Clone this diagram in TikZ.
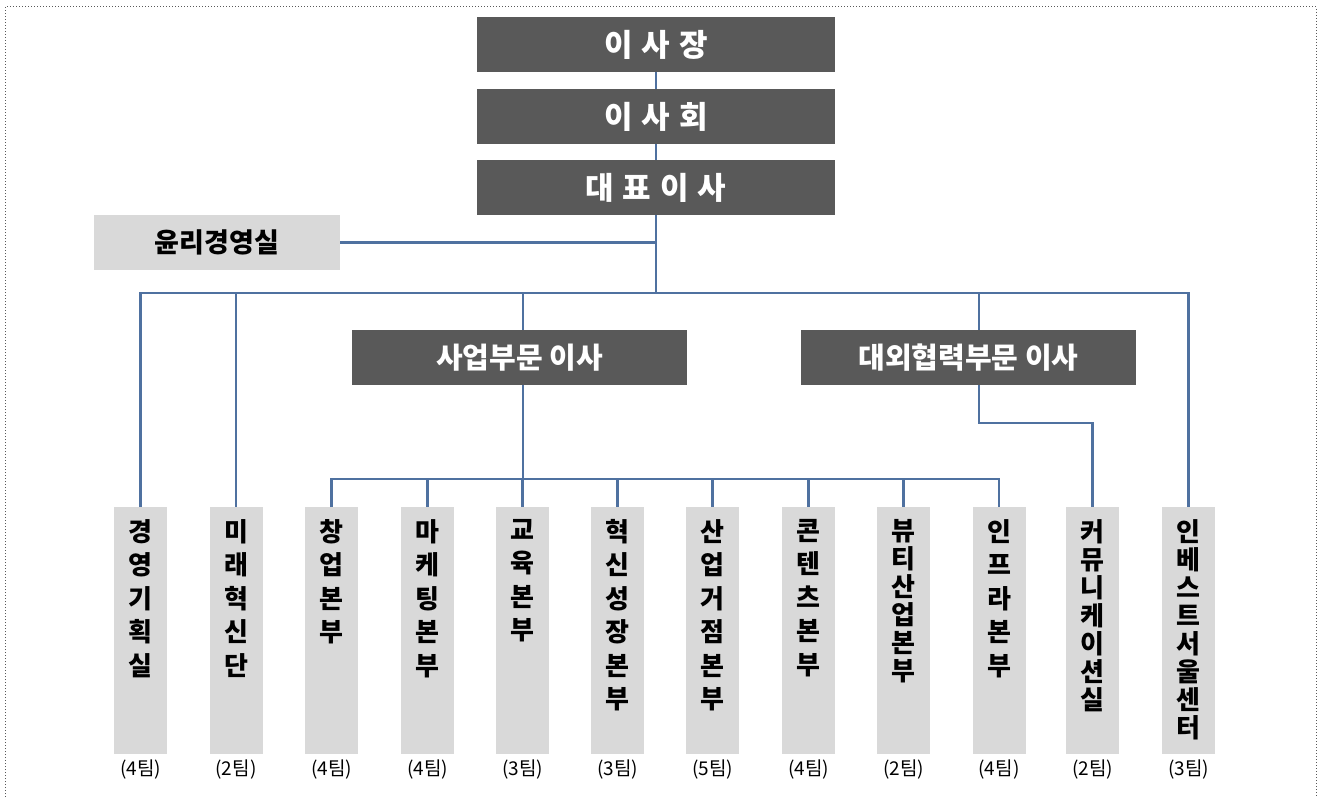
\documentclass[tikz,border=0pt]{standalone}
\usepackage{fontspec}
\setmainfont{Noto Sans CJK KR}
\definecolor{darkbox}{RGB}{89,89,89}
\definecolor{lightbox}{RGB}{217,217,217}
\definecolor{conn}{RGB}{79,113,160}
\tikzset{
  topbox/.style={fill=darkbox, draw=none, minimum width=358pt, minimum height=55pt, inner sep=0pt,
    text=white, font=\fontsize{31}{33}\selectfont\bfseries},
  midbox/.style={fill=darkbox, draw=none, minimum width=335pt, minimum height=55pt, inner sep=0pt,
    text=white, font=\fontsize{29}{31}\selectfont\bfseries},
  ethbox/.style={fill=lightbox, draw=none, minimum width=246pt, minimum height=55pt, inner sep=0pt,
    font=\fontsize{27}{30}\selectfont\bfseries},
  unitbox/.style={fill=lightbox, draw=none, minimum width=53pt, minimum height=247pt, inner sep=0pt, anchor=north},
  vtext/.style={anchor=north, inner sep=0pt, align=center, font=\fontsize{26}{33.5}\selectfont\bfseries},
  vtextn/.style={anchor=north, inner sep=0pt, align=center, font=\fontsize{26}{28}\selectfont\bfseries},
  teamlbl/.style={anchor=north, inner sep=0pt, font=\fontsize{19}{21}\selectfont},
  link/.style={draw=conn, line width=2.6pt},
}
\newcommand{\gapsp}{\hspace{9pt}}
\begin{document}
\begin{tikzpicture}[x=1pt,y=-1pt]
\useasboundingbox (0,0) rectangle (1318,797);
\draw[gray!70!black, dotted, line width=1pt] (5,797) -- (5,7) -- (1316,7) -- (1316,797);

\node[topbox] (jang) at (656,44.5) {이\gapsp 사\gapsp 장};
\node[topbox] (hoe) at (656,116.5) {이\gapsp 사\gapsp 회};
\node[topbox] (ceo) at (656,187.5) {대\gapsp 표\gapsp 이\gapsp 사};
\node[ethbox] (eth) at (217,242.5) {윤리경영실};
\node[midbox] (biz) at (519.5,357.5) {사업부문 이사};
\node[midbox] (ext) at (968.5,357.5) {대외협력부문 이사};

\foreach \n/\x/\t/\st/\lab in {
  u1/140.5/{경\\영\\기\\획\\실}/vtext/4,
  u2/236/{미\\래\\혁\\신\\단}/vtext/2,
  u3/331.5/{창\\업\\본\\부}/vtext/4,
  u4/427.5/{마\\케\\팅\\본\\부}/vtext/4,
  u5/522.5/{교\\육\\본\\부}/vtext/3,
  u6/617.5/{혁\\신\\성\\장\\본\\부}/vtext/3,
  u7/712.5/{산\\업\\거\\점\\본\\부}/vtext/5,
  u8/808.5/{콘\\텐\\츠\\본\\부}/vtext/4,
  u9/903.5/{뷰\\티\\산\\업\\본\\부}/vtextn/2,
  u10/999/{인\\프\\라\\본\\부}/vtext/4,
  u11/1092.5/{커\\뮤\\니\\케\\이\\션\\실}/vtextn/2,
  u12/1188.5/{인\\베\\스\\트\\서\\울\\센\\터}/vtextn/3}{
  \node[unitbox] (\n) at (\x,507) {};
  \node[\st] (\n t) at ([yshift=-12pt]\n.north) {\t};
  \node[teamlbl] (\n l) at ([yshift=-5pt]\n.south) {(\lab 팀)};
}

\coordinate (hub) at (656,293);
\coordinate (extc) at (979,293);
\coordinate (sub) at (523,479);
\coordinate (elbow) at (979,423);

\draw[link] (jang.south) -- (hoe.north);
\draw[link] (hoe.south) -- (ceo.north);
\draw[link] (ceo.south) -- (hub);
\draw[link] (eth.east) -- (eth.east -| hub);
\draw[link] (u1.north) -- (u1.north |- hub) -- (u12.north |- hub) -- (u12.north);
\draw[link] (u2.north |- hub) -- (u2.north);
\draw[link] (sub |- hub) -- (sub |- biz.north);
\draw[link] (extc) -- (extc |- ext.north);
\draw[link] (sub |- biz.south) -- (sub);
\draw[link] (u3.north) -- (u3.north |- sub) -- (u10.north |- sub) -- (u10.north);
\foreach \n in {u4,u5,u6,u7,u8,u9}{
  \draw[link] (\n.north |- sub) -- (\n.north);
}
\draw[link] (elbow |- ext.south) -- (elbow) -- (elbow -| u11.north) -- (u11.north);
\end{tikzpicture}
\end{document}
